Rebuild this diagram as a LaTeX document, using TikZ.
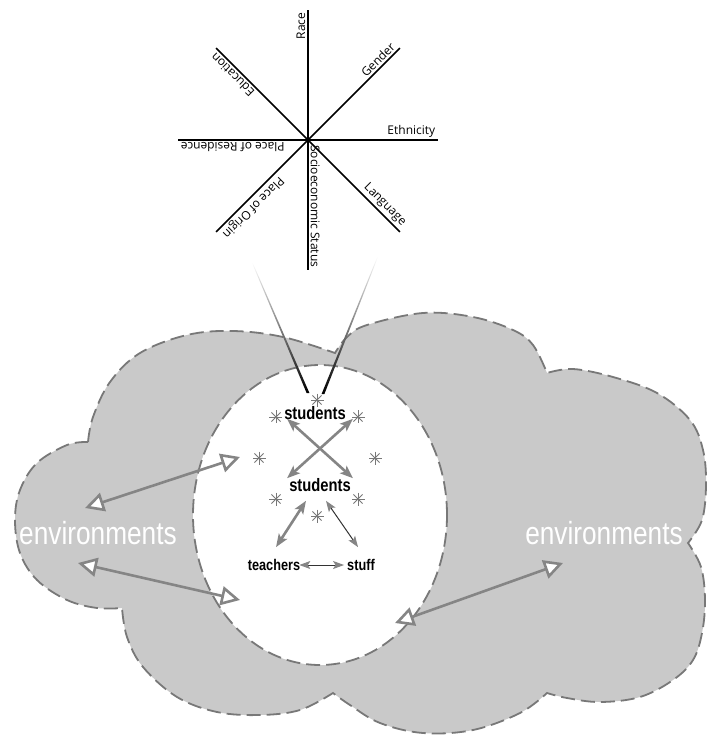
\documentclass[tikz,border=0pt]{standalone}
\usepackage{fontspec}
\newfontfamily\labelfont{Open Sans}
\newfontfamily\narrowfont[FakeStretch=0.82]{Liberation Sans}
\usetikzlibrary{arrows.meta,shapes.geometric}
\definecolor{cloudgray}{gray}{0.79}
\definecolor{edgegray}{gray}{0.47}
\definecolor{arrowgray}{gray}{0.52}

\begin{document}
\begin{tikzpicture}[x=1pt, y=-1pt, font=\labelfont\fontsize{12}{14}\selectfont]
    \tikzset{
      cloudline/.style={draw=edgegray, line width=1.8pt, dash pattern=on 14pt off 6pt},
      hollow/.style={arrowgray, line width=2.6pt,
        {Triangle[length=19pt,width=19pt,fill=white]}-{Triangle[length=19pt,width=19pt,fill=white]}},
      gtip/.tip={Stealth[length=13pt,width=10pt,inset=3pt,color=arrowgray]},
      stip/.tip={Stealth[length=11pt,width=8pt,inset=2.5pt,color=arrowgray]},
      bothway/.style={arrowgray, line width=2.6pt, gtip-gtip},
      thinway/.style={black!80, line width=1pt, stip-stip},
      crowd/.style={font=\narrowfont\bfseries\fontsize{18}{20}\selectfont, inner sep=1pt},
      actor/.style={font=\narrowfont\bfseries\fontsize{15.5}{17}\selectfont, inner sep=1pt},
      envtext/.style={white, font=\narrowfont\fontsize{32}{34}\selectfont},
      asterisk/.pic={\foreach \a in {0,45,90,135}
        \draw[edgegray, line width=.9pt] (\a:6.5pt) -- (\a+180:6.5pt);}
    }
    \useasboundingbox (0,0) rectangle (707,735);

    % Cloud of environments
    \draw[cloudline, fill=cloudgray]
      plot[smooth, tension=.6] coordinates {(88,442) (93,417) (110,382) (140,353) (187,335) (233,331) (283,337) (335,353)}
      -- plot[smooth, tension=.6] coordinates {(335,353) (347,337) (367,325) (423,313) (473,317) (513,330) (533,345) (547,373)}
      -- plot[smooth, tension=.6] coordinates {(547,373) (573,369) (613,377) (657,393) (690,420) (703,450) (706,485) (702,520) (688,543)}
      -- plot[smooth, tension=.6] coordinates {(688,543) (701,567) (705,600) (702,633) (693,660) (673,680) (640,697) (600,702) (567,698) (547,693)}
      -- plot[smooth, tension=.6] coordinates {(547,693) (520,713) (473,730) (423,733) (380,723) (350,705) (333,693)}
      -- plot[smooth, tension=.6] coordinates {(333,693) (300,710) (260,715) (217,712) (177,697) (143,667) (127,637) (122,608)}
      -- plot[smooth, tension=.6] coordinates {(122,608) (97,608) (67,600) (37,580) (20,553) (15,520) (20,490) (37,463) (67,445) (88,442)}
      -- cycle;

    % Classroom
    \node[ellipse, cloudline, fill=white, minimum width=254pt, minimum height=300pt, inner sep=0pt] (classroom) at (320,515) {};

    % Beams from the star down to the student
    \coordinate (hub) at (308,140);
    \coordinate (beamL) at (252,262);
    \coordinate (beamR) at (378,256);
    \coordinate (focusL) at (308,393);
    \coordinate (focusR) at (323,394);
    \shade[top color=white, bottom color=black] ([xshift=-.4pt]beamL) -- ([xshift=.4pt]beamL) -- ([xshift=1.4pt]focusL) -- ([xshift=-1.4pt]focusL) -- cycle;
    \shade[top color=white, bottom color=black] ([xshift=-.4pt]beamR) -- ([xshift=.4pt]beamR) -- ([xshift=1.4pt]focusR) -- ([xshift=-1.4pt]focusR) -- cycle;

    % Star of identities
    \foreach \ang/\txt in {90/Race, 45/Gender, 0/Ethnicity, -45/Language, -90/Socioeconomic Status,
                           -135/Place of Origin, 180/Place of Residence, 135/Education}
      \draw[line width=1.6pt] (hub) -- ++(\ang:130pt) node[rotate=\ang, anchor=south east, inner sep=2pt] {\txt};

    % Students around
    \coordinate (ring) at (317,458);
    \foreach \a in {0,45,...,315}
      \path (ring) ++(\a:58pt) pic {asterisk};

    % Actors
    \node[crowd] (stud1) at (315,413) {students};
    \node[crowd] (stud2) at (320,485) {students};
    \node[actor] (teach) at (274,565) {teachers};
    \node[actor] (stuff) at (361,565) {stuff};
    \node[envtext] (envL) at (98,533) {environments};
    \node[envtext] (envR) at (604,533) {environments};

    % Exchanges inside
    \draw[bothway] ([shift={(4pt,2pt)}]stud1.south west) -- ([shift={(1pt,-1pt)}]stud2.north east);
    \draw[bothway] ([shift={(6pt,2pt)}]stud1.south east) -- ([shift={(-1pt,-1pt)}]stud2.north west);
    \draw[bothway] ([shift={(-14pt,-8pt)}]stud2.south) -- ([shift={(2pt,11pt)}]teach.north);
    \draw[thinway] ([shift={(6pt,-8pt)}]stud2.south) -- ([shift={(-3pt,11pt)}]stuff.north);
    \draw[thinway] ([xshift=-2pt]teach.east) -- ([xshift=-2pt]stuff.west);

    % Exchanges with the environments
    \coordinate (envLa) at (85,508);
    \coordinate (roomLa) at (240,457);
    \coordinate (envLb) at (78,563);
    \coordinate (roomLb) at (240,600);
    \coordinate (envRa) at (563,563);
    \coordinate (roomRa) at (395,623);
    \draw[hollow] (envLa) -- (roomLa);
    \draw[hollow] (envLb) -- (roomLb);
    \draw[hollow] (envRa) -- (roomRa);

\end{tikzpicture}
\end{document}
